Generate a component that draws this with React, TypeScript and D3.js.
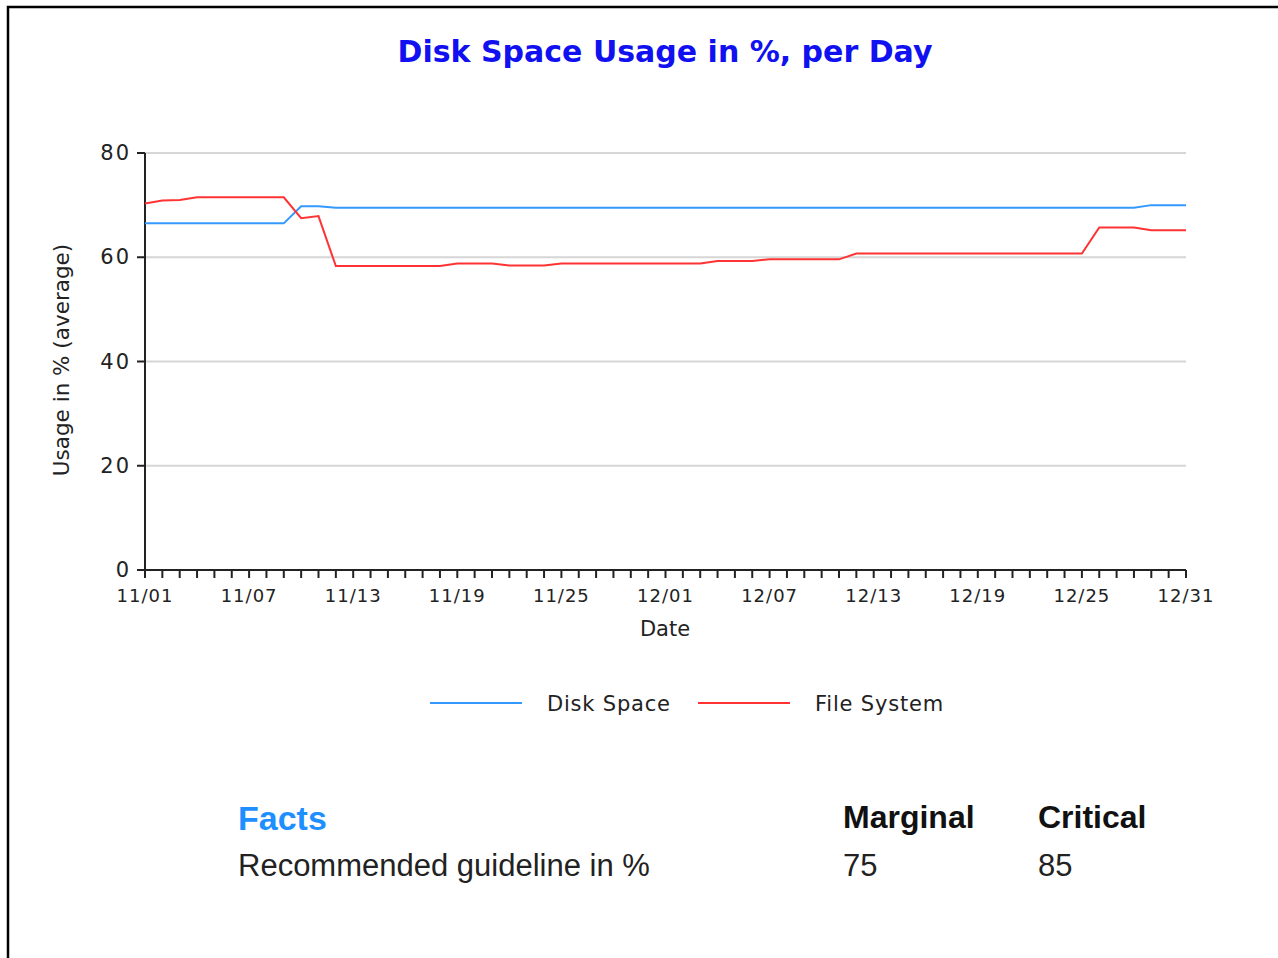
import * as d3 from "d3";

// one value per day, 11/01 .. 12/31
const DATES = d3.timeDay.range(new Date(2009, 10, 1), new Date(2010, 0, 1));

const DISK_SPACE = [
  66.5, 66.5, 66.5, 66.5, 66.5, 66.5, 66.5, 66.5, 66.5,
  69.8, 69.8,
  69.5, 69.5, 69.5, 69.5, 69.5, 69.5, 69.5, 69.5, 69.5, 69.5,
  69.5, 69.5, 69.5, 69.5, 69.5, 69.5, 69.5, 69.5, 69.5, 69.5,
  69.5, 69.5, 69.5, 69.5, 69.5, 69.5, 69.5, 69.5, 69.5, 69.5,
  69.5, 69.5, 69.5, 69.5, 69.5, 69.5, 69.5, 69.5, 69.5, 69.5,
  69.5, 69.5, 69.5, 69.5, 69.5, 69.5, 69.5,
  70.0, 70.0, 70.0,
];

const FILE_SYSTEM = [
  70.3, 70.9, 71.0,
  71.5, 71.5, 71.5, 71.5, 71.5, 71.5,
  67.5, 67.9,
  58.3, 58.3, 58.3, 58.3, 58.3, 58.3, 58.3,
  58.8, 58.8, 58.8,
  58.4, 58.4, 58.4,
  58.8, 58.8, 58.8, 58.8, 58.8, 58.8, 58.8, 58.8, 58.8,
  59.3, 59.3, 59.3,
  59.6, 59.6, 59.6, 59.6, 59.6,
  60.7, 60.7, 60.7, 60.7, 60.7, 60.7, 60.7, 60.7, 60.7, 60.7, 60.7, 60.7, 60.7, 60.7,
  65.7, 65.7, 65.7,
  65.2, 65.2, 65.2,
];

const X_LABELS = ["11/01", "11/07", "11/13", "11/19", "11/25", "12/01", "12/07", "12/13", "12/19", "12/25", "12/31"];
const Y_TICKS = [0, 20, 40, 60, 80];

const SERIES = [
  { name: "Disk Space", values: DISK_SPACE, color: "#3399ff" },
  { name: "File System", values: FILE_SYSTEM, color: "#ff3333" },
];

const FACT_COLUMNS = ["Marginal", "Critical"];
const FACT_ROWS = [{ label: "Recommended guideline in %", values: ["75", "85"] }];

const W = 1278;
const H = 958;
const left = 145;
const right = 1186;
const top = 153;
const bottom = 570;

const chartFont = "'DejaVu Sans', sans-serif";
const tableFont = "'Liberation Sans', Arial, sans-serif";

export default function App() {
  const x = d3.scaleTime().domain([DATES[0], DATES[DATES.length - 1]]).range([left, right]);
  const y = d3.scaleLinear().domain([0, 80]).range([bottom, top]);
  const fmt = d3.timeFormat("%m/%d");
  const parse = (s: string) => DATES.find(d => fmt(d) === s)!;

  const line = d3.line<number>()
    .x((_, i) => x(DATES[i]))
    .y(d => y(d));

  return (
    <svg width={W} height={H} style={{ position: "absolute", left: 0, top: 0, background: "#fff" }}>
      {/* frame */}
      <path d={`M8,${H} V7 H${W}`} fill="none" stroke="#000" strokeWidth={2.5} />

      <text x={665} y={62} textAnchor="middle" fontFamily={chartFont} fontWeight="bold"
        fontSize={30} fill="#1010f0">Disk Space Usage in %, per Day</text>

      {/* grid */}
      {Y_TICKS.filter(t => t > 0).map(t => (
        <line key={t} x1={left} x2={right} y1={y(t)} y2={y(t)} stroke="#d6d6d6" strokeWidth={2} />
      ))}

      {/* y axis */}
      <line x1={left} x2={left} y1={top} y2={bottom} stroke="#222" strokeWidth={2} />
      {Y_TICKS.map(t => (
        <g key={t}>
          <line x1={left - 8} x2={left} y1={y(t)} y2={y(t)} stroke="#222" strokeWidth={2} />
          <text x={left - 14} y={y(t) + 7} textAnchor="end" fontFamily={chartFont} fontSize={21}
            letterSpacing={2} fill="#222">{t}</text>
        </g>
      ))}
      <text transform={`translate(69,360) rotate(-90)`} textAnchor="middle" fontFamily={chartFont}
        fontSize={21.5} fill="#222">Usage in % (average)</text>

      {/* x axis */}
      <line x1={left} x2={right} y1={bottom} y2={bottom} stroke="#222" strokeWidth={2} />
      {DATES.map((d, i) => (
        <line key={i} x1={x(d)} x2={x(d)} y1={bottom} y2={bottom + 8} stroke="#222" strokeWidth={2} />
      ))}
      {X_LABELS.map(s => (
        <text key={s} x={x(parse(s))} y={602} textAnchor="middle" fontFamily={chartFont}
          fontSize={18} letterSpacing={1} fill="#222">{s}</text>
      ))}
      <text x={665} y={636} textAnchor="middle" fontFamily={chartFont} fontSize={21} fill="#222">Date</text>

      {/* series */}
      {SERIES.map(s => (
        <path key={s.name} d={line(s.values)!} fill="none" stroke={s.color} strokeWidth={2} />
      ))}

      {/* legend */}
      {SERIES.map((s, i) => (
        <g key={s.name} transform={`translate(${430 + i * 268},703)`}>
          <line x1={0} x2={92} y1={0} y2={0} stroke={s.color} strokeWidth={2} />
          <text x={117} y={8} fontFamily={chartFont} fontSize={21} letterSpacing={0.8} fill="#222">{s.name}</text>
        </g>
      ))}

      {/* facts table */}
      <text x={238} y={830} fontFamily={tableFont} fontWeight="bold" fontSize={34} fill="#1e8fff">Facts</text>
      {FACT_COLUMNS.map((c, i) => (
        <text key={c} x={843 + i * 195} y={828} fontFamily={tableFont} fontWeight="bold" fontSize={32}
          fill="#111">{c}</text>
      ))}
      {FACT_ROWS.map((r, ri) => (
        <g key={r.label}>
          <text x={238} y={876 + ri * 46} fontFamily={tableFont} fontSize={31} fill="#222">{r.label}</text>
          {r.values.map((v, i) => (
            <text key={i} x={843 + i * 195} y={876 + ri * 46} fontFamily={tableFont} fontSize={31}
              fill="#222">{v}</text>
          ))}
        </g>
      ))}
    </svg>
  );
}
